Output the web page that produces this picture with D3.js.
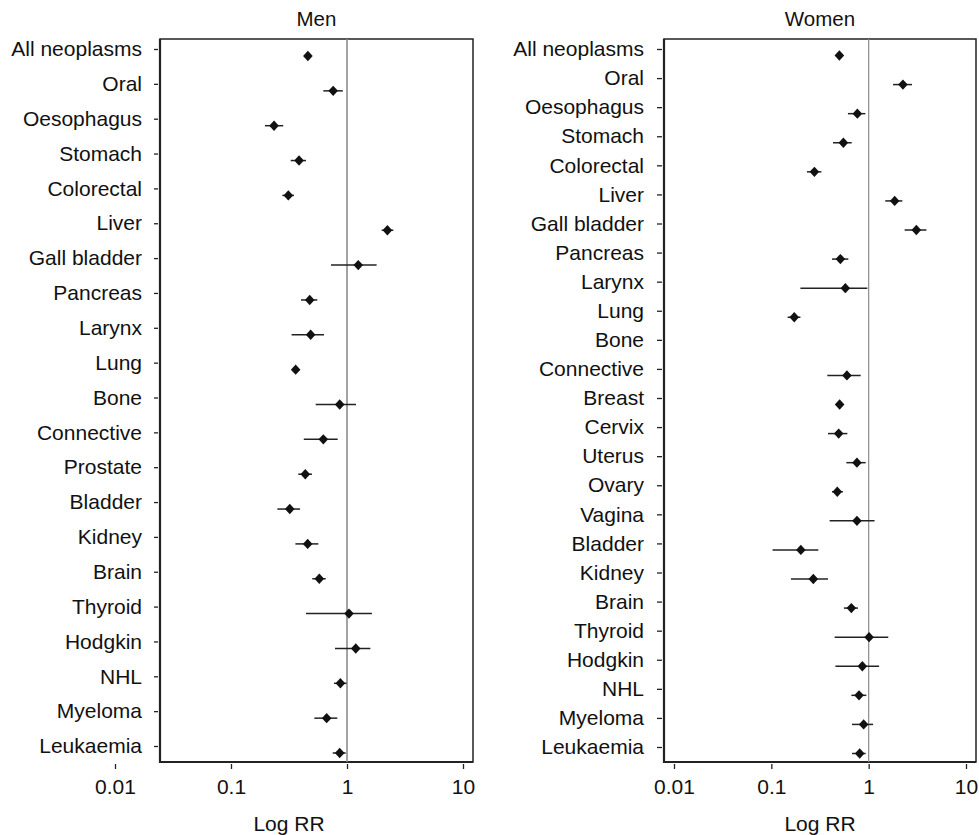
<!DOCTYPE html>
<html>
<head>
<meta charset="utf-8">
<script src="https://cdn.jsdelivr.net/npm/d3@7"></script>
<style>
  body { margin: 0; background: #fff; }
  svg { display: block; font-family: "Liberation Sans", Arial, sans-serif; }
  .axis text { font-size: 21px; fill: #111; }
  .axis line { stroke: #222; stroke-width: 1.3; }
</style>
</head>
<body>
<div id="chart"></div>
<script>
var svgWidth = 979;
var svgHeight = 835;

// Men
var menCategories = ["All neoplasms", "Oral", "Oesophagus", "Stomach", "Colorectal", "Liver",
  "Gall bladder", "Pancreas", "Larynx", "Lung", "Bone", "Connective", "Prostate", "Bladder",
  "Kidney", "Brain", "Thyroid", "Hodgkin", "NHL", "Myeloma", "Leukaemia"];
var menRR =    [0.46, 0.76, 0.235, 0.386, 0.312, 2.23, 1.25, 0.477, 0.486, 0.361, 0.865, 0.625, 0.437, 0.321, 0.458, 0.577, 1.04, 1.19, 0.877, 0.668, 0.865];
var menLower = [0.45, 0.625, 0.196, 0.327, 0.277, 1.99, 0.728, 0.401, 0.333, 0.35, 0.537, 0.424, 0.38, 0.251, 0.359, 0.502, 0.443, 0.788, 0.773, 0.523, 0.753];
var menUpper = [0.47, 0.92, 0.282, 0.443, 0.349, 2.51, 1.80, 0.555, 0.634, 0.37, 1.196, 0.831, 0.499, 0.394, 0.566, 0.655, 1.64, 1.59, 0.99, 0.825, 0.975];

// Women (no estimate for Bone)
var womenCategories = ["All neoplasms", "Oral", "Oesophagus", "Stomach", "Colorectal", "Liver",
  "Gall bladder", "Pancreas", "Larynx", "Lung", "Bone", "Connective", "Breast", "Cervix", "Uterus",
  "Ovary", "Vagina", "Bladder", "Kidney", "Brain", "Thyroid", "Hodgkin", "NHL", "Myeloma", "Leukaemia"];
var womenRR =    [0.50, 2.25, 0.765, 0.55, 0.277, 1.85, 3.09, 0.512, 0.576, 0.172, null, 0.598, 0.503, 0.492, 0.758, 0.476, 0.758, 0.201, 0.270, 0.664, 1.01, 0.861, 0.796, 0.888, 0.809];
var womenLower = [0.49, 1.78, 0.612, 0.43, 0.232, 1.48, 2.34, 0.42, 0.199, 0.147, null, 0.376, 0.49, 0.382, 0.590, 0.42, 0.397, 0.103, 0.159, 0.557, 0.447, 0.455, 0.664, 0.674, 0.674];
var womenUpper = [0.51, 2.79, 0.925, 0.669, 0.327, 2.22, 3.92, 0.618, 0.97, 0.199, null, 0.828, 0.52, 0.604, 0.931, 0.544, 1.15, 0.304, 0.382, 0.776, 1.59, 1.28, 0.946, 1.11, 0.931];

var xTickValues = [0.01, 0.1, 1, 10];
var xTickLabels = ["0.01", "0.1", "1", "10"];

var svg = d3.select("#chart")
  .append("svg")
  .attr("width", svgWidth)
  .attr("height", svgHeight);

function drawPanel(p) {
  var g = svg.append("g");

  var x = d3.scaleLog()
    .domain([0.01, 10])
    .range(p.xRange);

  var y = d3.scalePoint()
    .domain(p.categories)
    .range(p.yRange);

  // frame
  g.append("rect")
    .attr("x", p.frame.left)
    .attr("y", p.frame.top)
    .attr("width", p.frame.right - p.frame.left)
    .attr("height", p.frame.bottom - p.frame.top)
    .attr("fill", "none")
    .attr("stroke", "#222")
    .attr("stroke-width", 1.5);
  g.append("path")
    .attr("d", `M${p.frame.left},${p.frame.top}V${p.frame.bottom}H${p.frame.right}`)
    .attr("fill", "none")
    .attr("stroke", "#222")
    .attr("stroke-width", 2.2);

  // reference line at RR = 1
  g.append("line")
    .attr("x1", x(1)).attr("x2", x(1))
    .attr("y1", p.frame.top).attr("y2", p.frame.bottom)
    .attr("stroke", "#8c8c8c")
    .attr("stroke-width", p.refWidth);

  // x axis
  var xAxis = g.append("g")
    .attr("class", "axis")
    .attr("transform", `translate(0, ${p.frame.bottom + 2})`)
    .call(d3.axisBottom(x)
      .tickValues(xTickValues)
      .tickFormat((d, i) => xTickLabels[i])
      .tickSize(5)
      .tickPadding(10));
  xAxis.select(".domain").remove();

  // y axis
  var yAxis = g.append("g")
    .attr("class", "axis")
    .attr("transform", `translate(${p.yAxisX}, 0)`)
    .call(d3.axisLeft(y)
      .tickSize(p.yTickSize)
      .tickPadding(p.yPadding));
  yAxis.select(".domain").remove();

  var rows = p.categories.map((c, i) => ({ cat: c, rr: p.rr[i], lo: p.lower[i], hi: p.upper[i] }))
    .filter(d => d.rr != null);

  // confidence intervals
  g.selectAll(".ci")
    .data(rows)
    .enter()
    .append("line")
    .attr("class", "ci")
    .attr("x1", d => x(d.lo))
    .attr("x2", d => x(d.hi))
    .attr("y1", d => y(d.cat) + p.offset)
    .attr("y2", d => y(d.cat) + p.offset)
    .attr("stroke", "#222")
    .attr("stroke-width", 1.5);

  // point estimates (filled diamonds)
  g.selectAll(".pt")
    .data(rows)
    .enter()
    .append("path")
    .attr("class", "pt")
    .attr("d", "M0,-5.2L4.8,0L0,5.2L-4.8,0Z")
    .attr("transform", d => `translate(${x(d.rr)}, ${y(d.cat) + p.offset})`)
    .attr("fill", "#111");

  // title
  g.append("text")
    .attr("x", (p.frame.left + p.frame.right) / 2)
    .attr("y", 26)
    .attr("text-anchor", "middle")
    .attr("font-size", "20.5px")
    .attr("fill", "#111")
    .text(p.title);

  // x label
  g.append("text")
    .attr("x", (x(0.01) + x(10)) / 2)
    .attr("y", 831)
    .attr("text-anchor", "middle")
    .attr("font-size", "21px")
    .attr("fill", "#111")
    .text("Log RR");
}

drawPanel({
  title: "Men",
  categories: menCategories, rr: menRR, lower: menLower, upper: menUpper,
  frame: { left: 160, right: 473, top: 39, bottom: 762 },
  xRange: [115, 463],
  yRange: [49, 746],
  yAxisX: 158, yTickSize: 4, yPadding: 12,
  offset: 7,
  refWidth: 1.6
});

drawPanel({
  title: "Women",
  categories: womenCategories, rr: womenRR, lower: womenLower, upper: womenUpper,
  frame: { left: 664, right: 976, top: 39, bottom: 762 },
  xRange: [674, 966],
  yRange: [49, 747],
  yAxisX: 662, yTickSize: 5, yPadding: 13,
  offset: 6.5,
  refWidth: 1.2
});
</script>
</body>
</html>
